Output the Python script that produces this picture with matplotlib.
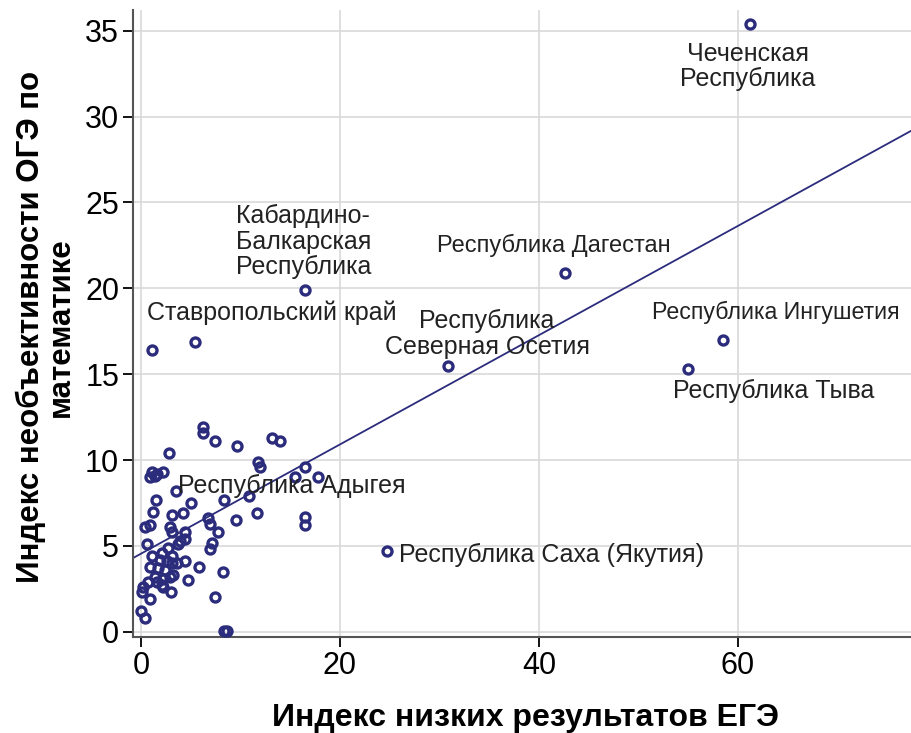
import matplotlib
matplotlib.use("Agg")
import matplotlib.pyplot as plt
import numpy as np

plt.rcParams['font.family'] = ['Liberation Sans', 'DejaVu Sans']

# Индекс низких результатов ЕГЭ / Индекс необъективности ОГЭ
ege = [61.2, 42.6, 16.5, 1.1, 5.4, 30.9, 58.5, 55.0, 24.7,
       6.2, 6.2, 7.4, 9.7, 13.2, 14.0, 2.8, 11.8, 12.0, 16.5, 15.5, 17.8,
       1.1, 1.4, 0.9, 1.6, 2.2, 3.5, 1.5, 5.0, 8.3, 10.9, 1.2, 4.2, 3.1,
       11.7, 6.7, 6.9, 9.6, 16.5, 16.5, 0.9, 0.4, 2.9, 4.4, 3.1, 7.7,
       0.6, 3.7, 3.9, 4.4, 7.1, 6.9, 1.1, 2.1, 3.1, 3.1, 4.4, 3.6, 5.8,
       8.2, 4.7, 3.0, 0.9, 0.1, 7.4, 0.0, 0.4, 8.3, 8.6,
       1.7, 2.4, 0.9, 2.6, 1.4, 2.2, 2.9, 0.7, 1.6, 2.1, 0.2, 2.2, 1.9,
       2.7, 3.2]
oge = [35.4, 20.9, 19.9, 16.4, 16.9, 15.5, 17.0, 15.3, 4.7,
       11.9, 11.6, 11.1, 10.8, 11.3, 11.1, 10.4, 9.9, 9.6, 9.6, 9.0, 9.0,
       9.3, 9.1, 9.0, 9.2, 9.3, 8.2, 7.7, 7.5, 7.7, 7.9, 7.0, 6.9, 6.8,
       6.9, 6.6, 6.3, 6.5, 6.7, 6.2, 6.2, 6.1, 6.1, 5.8, 5.8, 5.8,
       5.1, 5.1, 5.3, 5.4, 5.2, 4.8, 4.4, 4.6, 4.4, 4.0, 4.1, 4.0, 3.8,
       3.5, 3.0, 2.3, 1.9, 2.3, 2.0, 1.2, 0.8, 0.05, 0.05,
       3.7, 3.6, 3.8, 4.1, 3.2, 3.1, 3.2, 2.9, 2.9, 2.7, 2.6, 2.6, 4.2,
       4.9, 3.3]

# линия регрессии
fit_intercept = 4.55
fit_slope = 0.318

labels = ["Чеченская\nРеспублика", "Кабардино-\nБалкарская\nРеспублика",
          "Республика Дагестан", "Ставропольский край",
          "Республика\nСеверная Осетия", "Республика Ингушетия",
          "Республика Тыва", "Республика Адыгея", "Республика Саха (Якутия)"]
label_x = [61.0, 9.55, 29.75, 0.6, 34.8, 51.4, 53.5, 3.7, 25.9]
label_y = [32.9, 22.7, 22.5, 18.6, 17.35, 18.6, 14.0, 8.5, 4.5]
label_ha = ["center", "left", "left", "left", "center", "left", "left", "left", "left"]
label_size = [18, 18, 17, 18, 18, 16.7, 18, 18, 18]

navy = '#2b2c7c'

fig = plt.figure(figsize=(9.11, 7.33), dpi=100)
ax = fig.add_axes([133 / 911, 96 / 733, 778 / 911, 627 / 733])

ax.set_xlim(-0.8, 77.4)
ax.set_ylim(-0.3, 36.2)
ax.set_xticks([0, 20, 40, 60])
ax.set_yticks(np.arange(0, 36, 5))
ax.grid(True, color='#d9d9d9', linewidth=1.2)
ax.set_axisbelow(True)

xs = np.array(ax.get_xlim())
ax.plot(xs, fit_intercept + fit_slope * xs, color=navy, linewidth=1.3, zorder=2)
ax.plot(ege, oge, 'o', mfc='none', mec=navy, ms=6.5, mew=2.4, zorder=3)

for t, x, y, ha, fs in zip(labels, label_x, label_y, label_ha, label_size):
    ax.text(x, y, t, fontsize=fs, color='#222222', ha=ha, va='center',
            multialignment=ha, linespacing=1.08, zorder=4)

for s in ['top', 'right']:
    ax.spines[s].set_visible(False)
for s in ['left', 'bottom']:
    ax.spines[s].set_color('#555555')
    ax.spines[s].set_linewidth(1.5)
ax.tick_params(axis='both', labelsize=22, length=7, width=1.3, pad=3)

fig.text(526 / 911, 1 - 718 / 733, "Индекс низких результатов ЕГЭ",
         fontsize=23, fontweight='bold', ha='center', va='center')
fig.text(46 / 911, 1 - 327 / 733, "Индекс необъективности ОГЭ по\nматематике",
         fontsize=22.5, fontweight='bold', ha='center', va='center',
         rotation=90, multialignment='center', linespacing=0.98)

fig.savefig("out.png", dpi=100)
